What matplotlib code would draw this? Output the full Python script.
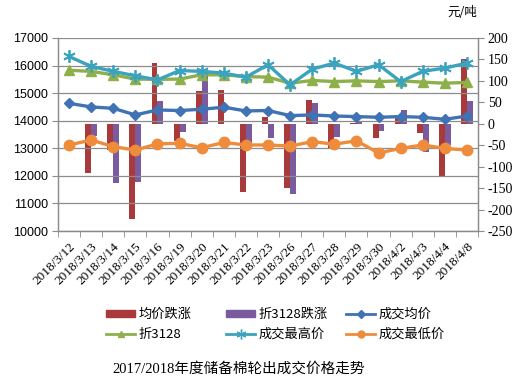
import matplotlib
matplotlib.use("Agg")
import matplotlib.pyplot as plt
import numpy as np
from matplotlib.lines import Line2D
from matplotlib.patches import Patch

dates = ["2018/3/12", "2018/3/13", "2018/3/14", "2018/3/15", "2018/3/16", "2018/3/19",
         "2018/3/20", "2018/3/21", "2018/3/22", "2018/3/23", "2018/3/26", "2018/3/27",
         "2018/3/28", "2018/3/29", "2018/3/30", "2018/4/2", "2018/4/3", "2018/4/4", "2018/4/8"]

avg_change = [0, -114, -62, -223, 142, -39, 76, 78, -158, 16, -150, 56, -57, 2, -33, 14, -22, -121, 150]
z3128_change = [0, -28, -139, -135, 52, -20, 114, -1, -58, -33, -164, 48, -30, 5, -16, 33, -65, -49, 52]

avg_price = [14630, 14500, 14450, 14210, 14390, 14370, 14415, 14490, 14355, 14370, 14185,
             14210, 14170, 14150, 14125, 14150, 14125, 14050, 14170]
z3128 = [15830, 15790, 15665, 15510, 15500, 15510, 15665, 15665, 15600, 15580, 15360,
         15460, 15420, 15445, 15420, 15445, 15400, 15360, 15390]
high_price = [16330, 15970, 15790, 15630, 15480, 15820, 15790, 15725, 15580, 16030, 15300,
              15870, 16090, 15790, 16030, 15420, 15790, 15910, 16090]
low_price = [13120, 13300, 13060, 12935, 13160, 13180, 13020, 13210, 13120, 13120, 13080,
             13240, 13150, 13270, 12830, 12995, 13120, 12995, 12935]

left_ticks = [10000, 11000, 12000, 13000, 14000, 15000, 16000, 17000]
right_ticks = [-250, -200, -150, -100, -50, 0, 50, 100, 150, 200]

C_RED = "#A83A3B"
C_PUR = "#7A5C9E"
C_BLUE = "#3F73B5"
C_GREEN = "#8EB04A"
C_TEAL = "#3CA3BE"
C_ORANGE = "#EE8C3C"
GRID = "#8C8C8C"

serif = ["Liberation Serif", "Noto Sans CJK SC"]
cjk = ["Noto Sans CJK SC", "DejaVu Sans"]

fig = plt.figure(figsize=(5.19, 3.80), dpi=100)
ax = fig.add_axes([58/519, 1-231/380, 420/519, 193/380])
ax2 = ax.twinx()
ax.set_zorder(ax2.get_zorder() + 1)
ax.patch.set_visible(False)

x = np.arange(len(dates))
bw = 0.27
ax2.bar(x - bw/2, avg_change, width=bw, color=C_RED, zorder=2)
ax2.bar(x + bw/2, z3128_change, width=bw, color=C_PUR, zorder=2)
ax2.set_ylim(-250, 200)
ax2.set_yticks(right_ticks)
ax2.set_yticklabels([str(v) for v in right_ticks], fontfamily="Liberation Serif", fontsize=10)

lw = 2.4
ax.plot(x, avg_price, color=C_BLUE, lw=lw, marker="D", ms=5.5, zorder=5)
ax.plot(x, z3128, color=C_GREEN, lw=lw, marker="^", ms=7, zorder=5)
ax.plot(x, high_price, color=C_TEAL, lw=lw, marker=(6, 2, 0), ms=9, mew=1.3, zorder=5)
ax.plot(x, low_price, color=C_ORANGE, lw=lw, marker="o", ms=7.5, zorder=5)

ax.set_ylim(10000, 17000)
ax.set_yticks(left_ticks)
ax.set_yticklabels([str(v) for v in left_ticks], fontfamily="Liberation Sans", fontsize=9)
ax.grid(axis="y", color=GRID, lw=0.9)
ax.set_axisbelow(True)
ax.set_xlim(-0.5, len(dates) - 0.5)
ax.set_xticks(x)
ax.set_xticklabels(dates, rotation=45, ha="right", rotation_mode="anchor",
                   fontfamily="Liberation Serif", fontsize=9.5)
ax.tick_params(axis="x", length=0, pad=7)
ax.set_xticks(np.arange(-0.5, len(dates), 1.0), minor=True)
ax.tick_params(axis="x", which="minor", length=4, color=GRID, direction="out")
ax.tick_params(axis="y", length=4, color=GRID, pad=3)
ax2.tick_params(axis="y", length=4, color=GRID, pad=3)

for a in (ax, ax2):
    a.spines["top"].set_visible(False)
    for s in ("left", "right", "bottom"):
        a.spines[s].set_color(GRID)
        a.spines[s].set_linewidth(0.9)

fig.text(462/519, 1-13/380, "元/吨", fontfamily=cjk, fontsize=9, ha="center", va="center")

h_red = Patch(color=C_RED)
h_pur = Patch(color=C_PUR)
h_blue = Line2D([], [], color=C_BLUE, lw=2, marker="D", ms=4)
h_green = Line2D([], [], color=C_GREEN, lw=2, marker="^", ms=5)
h_teal = Line2D([], [], color=C_TEAL, lw=2, marker=(6, 2, 0), ms=7, mew=1)
h_orange = Line2D([], [], color=C_ORANGE, lw=2, marker="o", ms=5)

groups = [([h_red, h_green], ["均价跌涨", "折3128"], 106),
          ([h_pur, h_teal], ["折3128跌涨", "成交最高价"], 226),
          ([h_blue, h_orange], ["成交均价", "成交最低价"], 346)]
for hs, ls, xl in groups:
    fig.legend(hs, ls, loc="upper left", bbox_to_anchor=(xl/519, 1-308/380),
               frameon=False, prop={"family": cjk, "size": 9.5},
               handlelength=2.2, handleheight=0.4, handletextpad=0.3,
               labelspacing=0.5, borderpad=0, borderaxespad=0)

fig.text(112/519, 1-369/380, "2017/2018年度储备棉轮出成交价格走势", fontfamily=serif,
         fontsize=10.5, ha="left", va="center")

fig.savefig("out.png", dpi=100)
